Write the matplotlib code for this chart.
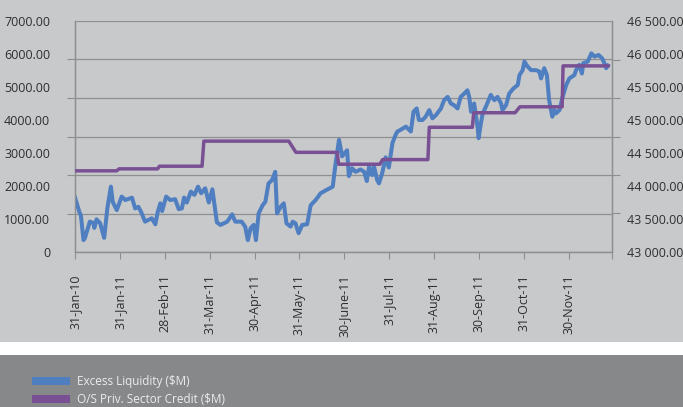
import matplotlib
matplotlib.use("Agg")
import matplotlib.pyplot as plt
from matplotlib.patches import Patch, Rectangle
from matplotlib.ticker import FuncFormatter
import numpy as np

plt.rcParams['font.family'] = ['Open Sans', 'DejaVu Sans']

# x axis: months since the first tick (evenly spaced category-like axis)
month_labels = ['31-Jan-10', '31-Jan-11', '28-Feb-11', '31-Mar-11', '30-Apr-11',
                '31-May-11', '30-June-11', '31-Jul-11', '31-Aug-11', '30-Sep-11',
                '31-Oct-11', '30-Nov-11']
x_end = 11.96

# Excess Liquidity ($M), left axis
liq_t = [0.00, 0.10, 0.13, 0.19, 0.22, 0.33, 0.41, 0.43, 0.48, 0.56, 0.65, 0.72, 0.80,
         0.84, 0.93, 1.04, 1.12, 1.27, 1.34, 1.41, 1.47, 1.56, 1.66, 1.71, 1.79, 1.84,
         1.90, 1.94, 2.03, 2.12, 2.23, 2.31, 2.38, 2.43, 2.49, 2.58, 2.66, 2.74, 2.81,
         2.90, 2.98, 3.06, 3.16, 3.24, 3.39, 3.50, 3.57, 3.71, 3.79, 3.85, 3.91, 3.98,
         4.03, 4.09, 4.18, 4.24, 4.31, 4.39, 4.46, 4.50, 4.58, 4.65, 4.71, 4.80, 4.85,
         4.91, 4.98, 5.06, 5.17, 5.25, 5.36, 5.47, 5.60, 5.74, 5.80, 5.88, 5.95, 6.06,
         6.10, 6.17, 6.25, 6.36, 6.44, 6.50, 6.55, 6.62, 6.66, 6.73, 6.77, 6.84, 6.92,
         6.99, 7.07, 7.14, 7.18, 7.25, 7.37, 7.48, 7.54, 7.61, 7.66, 7.74, 7.81, 7.89,
         7.96, 8.04, 8.15, 8.22, 8.30, 8.37, 8.44, 8.52, 8.59, 8.67, 8.74, 8.78, 8.82,
         8.89, 8.97, 8.99, 9.04, 9.08, 9.15, 9.26, 9.34, 9.41, 9.49, 9.52, 9.60, 9.67,
         9.76, 9.86, 9.90, 9.97, 10.01, 10.08, 10.16, 10.27, 10.34, 10.38, 10.45, 10.51,
         10.56, 10.63, 10.68, 10.71, 10.79, 10.86, 10.94, 11.01, 11.12, 11.16, 11.23,
         11.29, 11.32, 11.42, 11.50, 11.57, 11.66, 11.74, 11.79, 11.83, 11.87]
liq_v = [1650, 1200, 1120, 360, 420, 920, 880, 730, 990, 870, 430, 1320, 1980,
         1520, 1270, 1680, 1575, 1645, 1320, 1370, 1220, 920, 990, 1020, 840, 1200,
         1475, 1240, 1680, 1575, 1600, 1300, 1320, 1650, 1500, 1830, 1730, 1980, 1780,
         1930, 1500, 1900, 900, 820, 920, 1140, 920, 920, 770, 360, 720, 820,
         360, 1170, 1420, 1525, 2080, 2180, 2430, 1170, 1370, 1475, 870, 770, 920,
         870, 570, 820, 840, 1420, 1575, 1780, 1880, 1980, 2640, 3400, 2900, 3080,
         2300, 2540, 2430, 2500, 2430, 2150, 2590, 2330, 2590, 2180, 2080, 2380, 2870,
         2560, 3300, 3550, 3650, 3700, 3800, 3650, 4250, 4350, 4000, 4000, 4100, 4300,
         4050, 4150, 4350, 4600, 4700, 4500, 4450, 4350, 4700, 4800, 4900, 4700, 4250,
         4500, 3750, 3450, 3900, 4200, 4400, 4760, 4600, 4700, 4500, 4300, 4450, 4800,
         4950, 5060, 5360, 5510, 5770, 5620, 5510, 5510, 5470, 5260, 5570, 5360,
         4600, 4100, 4300, 4200, 4300, 4700, 5060, 5260, 5360, 5510, 5670,
         5410, 5720, 5770, 6020, 5920, 5970, 5870, 5720, 5570, 5650]

# O/S Priv. Sector Credit ($M), right axis
cred_t = [0.00, 0.93, 0.98, 1.84, 1.88, 2.83, 2.87, 4.76, 4.92, 5.84, 5.87, 6.79,
          6.85, 7.86, 7.89, 8.85, 8.88, 9.80, 9.91, 10.85, 10.87, 11.87]
cred_v = [44230, 44230, 44260, 44260, 44300, 44300, 44680, 44680, 44510, 44510,
          44330, 44330, 44400, 44400, 44890, 44890, 45110, 45110, 45200, 45200,
          45820, 45820]

left_ticks = np.arange(0, 7001, 1000)
right_ticks = np.arange(43000, 46501, 500)

blue = '#4f7fc1'
purple = '#7a5094'
grid_c = '#8e8f91'
txt_c = '#2e2e2e'

fig = plt.figure(figsize=(6.83, 4.07), dpi=100, facecolor='white')
fig.patches.append(Rectangle((0, 1 - 342 / 407), 1, 342 / 407, transform=fig.transFigure,
                             facecolor='#c8c9cb', edgecolor='none', zorder=-10))
fig.patches.append(Rectangle((0, 0), 1, 52 / 407, transform=fig.transFigure,
                             facecolor='#87888a', edgecolor='none', zorder=-10))

ax = fig.add_axes([75 / 683, 1 - 252 / 407, 537 / 683, 231 / 407])
ax.set_facecolor('none')
ax2 = ax.twinx()

ax.plot(liq_t, liq_v, color=blue, lw=2.9, solid_joinstyle='round', zorder=3)
ax2.plot(cred_t, cred_v, color=purple, lw=2.5, solid_joinstyle='round', zorder=3)

ax.set_xlim(0, x_end)
ax.set_ylim(0, 7000)
ax2.set_ylim(43000, 46500)

# labels on the value axes, gridlines/tick marks at sixths (as in the original)
ax.set_yticks(left_ticks)
ax.set_yticklabels(['0' if v == 0 else f'{v:.2f}' for v in left_ticks])
ax2.set_yticks(right_ticks)
ax2.yaxis.set_major_formatter(FuncFormatter(lambda v, p: f'{v:,.2f}'.replace(',', ' ')))
sixths = np.linspace(0, 7000, 7)
ax.set_yticks(sixths, minor=True)
ax2.set_yticks(np.linspace(43000, 46500, 7), minor=True)
ax.tick_params(axis='y', which='major', length=0, pad=18, labelsize=9, labelcolor=txt_c)
ax2.tick_params(axis='y', which='major', length=0, pad=11, labelsize=9, labelcolor=txt_c)
ax.tick_params(axis='y', which='minor', length=6, color=grid_c, width=0.8)
ax2.tick_params(axis='y', which='minor', length=6, color=grid_c, width=0.8)
for v in sixths:
    ax.axhline(v, color=grid_c, lw=0.9, zorder=1)

ax.set_xticks(list(range(len(month_labels))) + [x_end])
ax.set_xticklabels(month_labels + [''], rotation=90)
ax.tick_params(axis='x', length=5, color=grid_c, width=0.8, pad=11, labelsize=9,
               labelcolor=txt_c)

for a in (ax, ax2):
    a.spines['top'].set_visible(False)
    for s in ('left', 'right', 'bottom'):
        a.spines[s].set_color(grid_c)
        a.spines[s].set_linewidth(0.9)

handles = [Patch(facecolor=blue, edgecolor='none', label='Excess Liquidity ($M)'),
           Patch(facecolor=purple, edgecolor='none', label='O/S Priv. Sector Credit ($M)')]
leg = fig.legend(handles=handles, loc='upper left', bbox_to_anchor=(32 / 683, 1 - 375 / 407),
                 frameon=False, borderpad=0, borderaxespad=0, handlelength=3.2,
                 handleheight=0.7, handletextpad=0.6, labelspacing=0.42,
                 prop={'family': ['Liberation Sans Narrow', 'DejaVu Sans Condensed',
                                  'Open Sans'], 'size': 8.5})
for t in leg.get_texts():
    t.set_color('#ececec')

fig.savefig('out.png', dpi=100, facecolor=fig.get_facecolor())
